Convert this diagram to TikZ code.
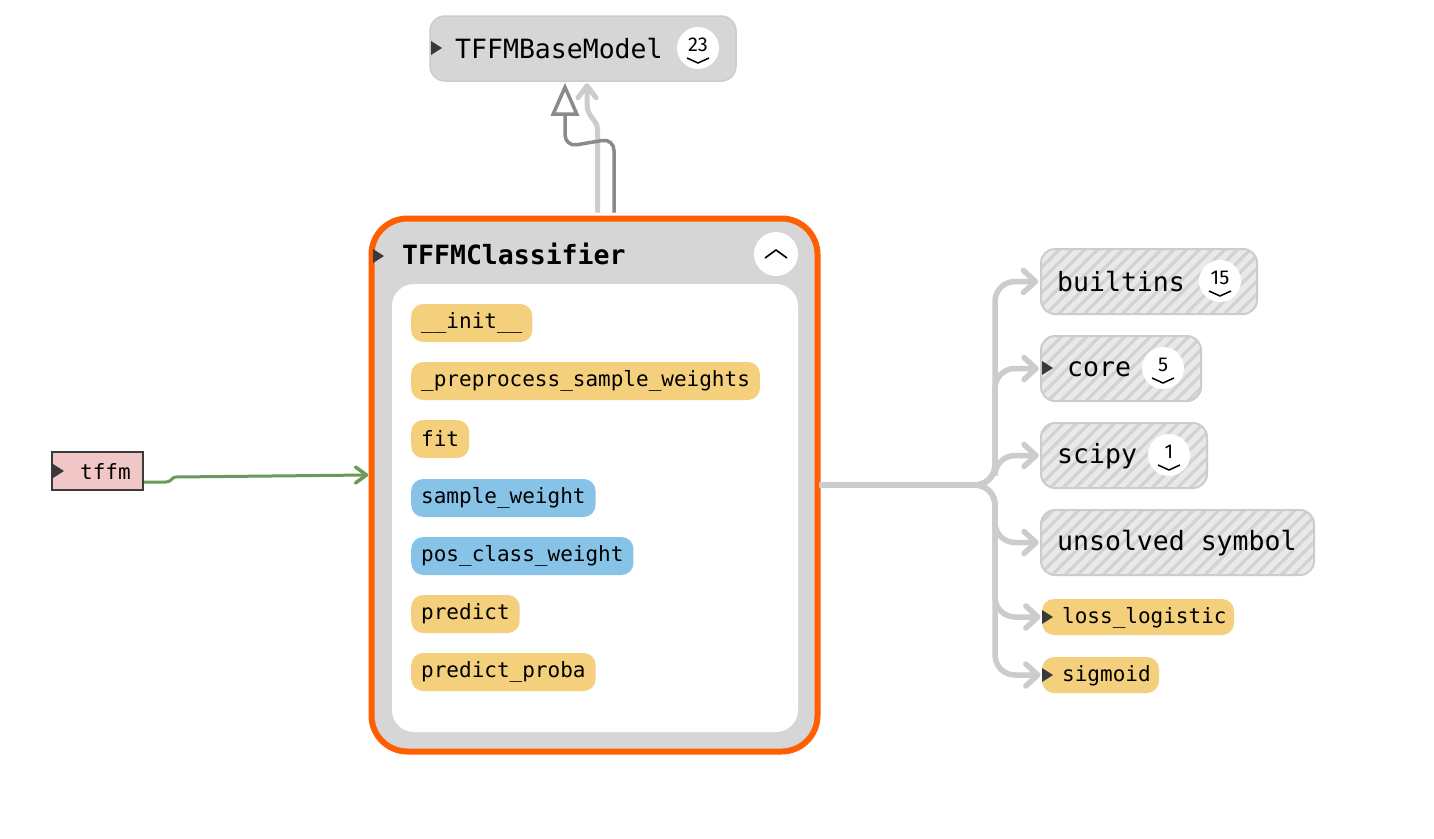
\documentclass[tikz,border=0pt]{standalone}
\usepackage{fontspec}
\setmonofont{DejaVu Sans Mono}
\newfontfamily\badgefont{Fira Sans}
\usetikzlibrary{arrows.meta,patterns.meta}
\definecolor{boxgray}{HTML}{D6D6D6}
\definecolor{boxline}{HTML}{CCCCCC}
\definecolor{hatchbg}{HTML}{E9E9E9}
\definecolor{hatchfg}{HTML}{D2D2D2}
\definecolor{edgegray}{HTML}{CCCCCC}
\definecolor{darkedge}{HTML}{8A8A8A}
\definecolor{fnyellow}{HTML}{F4D07C}
\definecolor{varblue}{HTML}{86C3E6}
\definecolor{modpink}{HTML}{F0C6C6}
\definecolor{selorange}{HTML}{FF5F00}
\definecolor{greenedge}{HTML}{6B9A58}
\definecolor{tri}{HTML}{3A3A3A}
\tikzset{
  bigfont/.style={font=\ttfamily\fontsize{26.5}{30}\selectfont},
  smallfont/.style={font=\ttfamily\fontsize{21}{24}\selectfont},
  labeltext/.style={inner sep=0pt, anchor=west, text=black},
  hatchbox/.style={draw=boxline, line width=2pt, rounded corners=14pt,
    preaction={fill=hatchbg},
    pattern={Lines[angle=45,distance=9pt,line width=3.2pt]}, pattern color=hatchfg,
    inner sep=0pt, minimum height=65pt},
  fnpill/.style={fill=fnyellow, rounded corners=12pt, inner xsep=10pt, inner ysep=0pt,
    minimum height=38pt, anchor=west, smallfont, text=black},
  varpill/.style={fnpill, fill=varblue},
  depedge/.style={draw=edgegray, line width=5.5pt, rounded corners=20pt},
  chevron/.style={line cap=round, line join=round},
  badgecircle/.style={circle, fill=white, minimum size=42pt, inner sep=0pt},
}
\newcommand\mybadge[3]{%
  \node[badgecircle] (#3) at (#1) {};
  \node[font=\badgefont\fontsize{20}{21}\selectfont, inner sep=0pt] at ([yshift=3pt]#3.center) {#2};
  \draw[line width=1.5pt] ([xshift=-11pt,yshift=-10pt]#3.center) -- ([yshift=-15pt]#3.center) -- ([xshift=11pt,yshift=-10pt]#3.center);
}
\newcommand\mytri[1]{%
  \fill[tri] ([xshift=-1pt,yshift=7pt]#1) -- ([xshift=10pt]#1) -- ([xshift=-1pt,yshift=-7pt]#1) -- cycle;
}
\begin{document}
\begin{tikzpicture}[x=1pt,y=-1pt]
\useasboundingbox[fill=white] (0,0) rectangle (1434,838);

% TFFMBaseModel
\node[draw=boxline, fill=boxgray, line width=1.5pt, rounded corners=15pt,
  minimum width=306pt, minimum height=65pt, inner sep=0pt] (base) at (583,48.5) {};
\mytri{432,48}
\node[labeltext, bigfont] at (455,49) {TFFMBaseModel};
\mybadge{698,48}{23}{bbase}

% TFFMClassifier container
\node[draw=selorange, fill=boxgray, line width=6pt, rounded corners=36pt,
  minimum width=446pt, minimum height=533pt, inner sep=0pt] (cls) at (594.5,485) {};
\node[fill=white, rounded corners=22pt, minimum width=406pt, minimum height=448pt,
  inner sep=0pt] (inner) at (595,508) {};
\mytri{374,256}
\node[labeltext, font=\ttfamily\bfseries\fontsize{26.5}{30}\selectfont] at (402,254) {TFFMClassifier};
\node[badgecircle, minimum size=44pt] (collapse) at (776,254) {};
\draw[line width=1.6pt] ([xshift=-11pt,yshift=-4pt]collapse.center) -- ([yshift=4pt]collapse.center) -- ([xshift=11pt,yshift=-4pt]collapse.center);

% methods
\node[fnpill] (m1) at (411,323) {\_\_init\_\_};
\node[fnpill] (m2) at (411,381) {\_preprocess\_sample\_weights};
\node[fnpill] (m3) at (411,439) {fit};
\node[varpill] (m4) at (411,498) {sample\_weight};
\node[varpill] (m5) at (411,556) {pos\_class\_weight};
\node[fnpill] (m6) at (411,614) {predict};
\node[fnpill] (m7) at (411,672) {predict\_proba};

% edges to base model
\coordinate (lighttip) at ([xshift=4pt,yshift=-4pt]base.south);
\draw[edgegray, line width=5pt]
  ([xshift=3pt,yshift=3pt]cls.north) -- ++(0,-83) .. controls ++(0,-10) and ++(0,14) .. ([xshift=4pt,yshift=-22pt]base.south) -- (lighttip);
\draw[edgegray, line width=5pt, chevron] ([xshift=-9pt,yshift=-12pt]lighttip) -- (lighttip) -- ([xshift=9pt,yshift=-12pt]lighttip);
\draw[darkedge, line width=3.5pt, rounded corners=12pt, -{Triangle[open,length=33pt,width=28pt]}]
  ([xshift=19.5pt,yshift=3pt]cls.north) -- ++(0,-74) -- ([xshift=-18pt,yshift=-65pt]base.south) -- ([xshift=-18pt,yshift=-1pt]base.south);

% tffm module
\node[draw=tri, fill=modpink, line width=1.5pt, minimum width=91pt, minimum height=38pt,
  inner sep=0pt] (tffm) at (97.5,471) {};
\mytri{54,471}
\node[labeltext, smallfont] at (80,472) {tffm};
\coordinate (greentip) at ([xshift=-2pt,yshift=10pt]cls.west);
\draw[greenedge, line width=3pt]
  ([yshift=-11pt]tffm.east) -- ++(22,0) .. controls ++(6,0) and ++(-4,0) .. ++(10,-5)
  -- (greentip);
\draw[greenedge, line width=3.5pt, chevron] ([xshift=-11pt,yshift=8pt]greentip) -- (greentip) -- ([xshift=-11pt,yshift=-8pt]greentip);

% right-hand dependencies
\node[hatchbox, minimum width=216pt] (builtins) at (1149,281.5) {};
\node[labeltext, bigfont] at (1057,282) {builtins};
\mybadge{1220,281}{15}{bb}
\node[hatchbox, minimum width=160pt] (core) at (1121,368.5) {};
\mytri{1043,368}
\node[labeltext, bigfont] at (1067,369) {core};
\mybadge{1163,368}{5}{bc}
\node[hatchbox, minimum width=166pt] (scipy) at (1124,455.5) {};
\node[labeltext, bigfont] at (1057,456) {scipy};
\mybadge{1169,455}{1}{bs}
\node[hatchbox, minimum width=273pt] (unsolved) at (1177.5,542.5) {};
\node[labeltext, bigfont] at (1057,543) {unsolved symbol};
\node[fill=fnyellow, rounded corners=12pt, minimum width=192pt, minimum height=36pt, inner sep=0pt] (loss) at (1138,617) {};
\mytri{1043,617}
\node[labeltext, smallfont] at (1062,618) {loss\_logistic};
\node[fill=fnyellow, rounded corners=12pt, minimum width=117pt, minimum height=36pt, inner sep=0pt] (sig) at (1100.5,675) {};
\mytri{1043,675}
\node[labeltext, smallfont] at (1062,676) {sigmoid};

\foreach \t in {builtins,core,scipy,unsolved,loss,sig}{
  \draw[depedge] ([xshift=-1pt]cls.east) -- (995,485) -- (995,0 |- \t.west) -- ([xshift=-4pt]\t.west);
  \draw[edgegray, line width=5.5pt, chevron] ([xshift=-16pt,yshift=11pt]\t.west) -- ([xshift=-4pt]\t.west) -- ([xshift=-16pt,yshift=-11pt]\t.west);
}
\end{tikzpicture}
\end{document}
